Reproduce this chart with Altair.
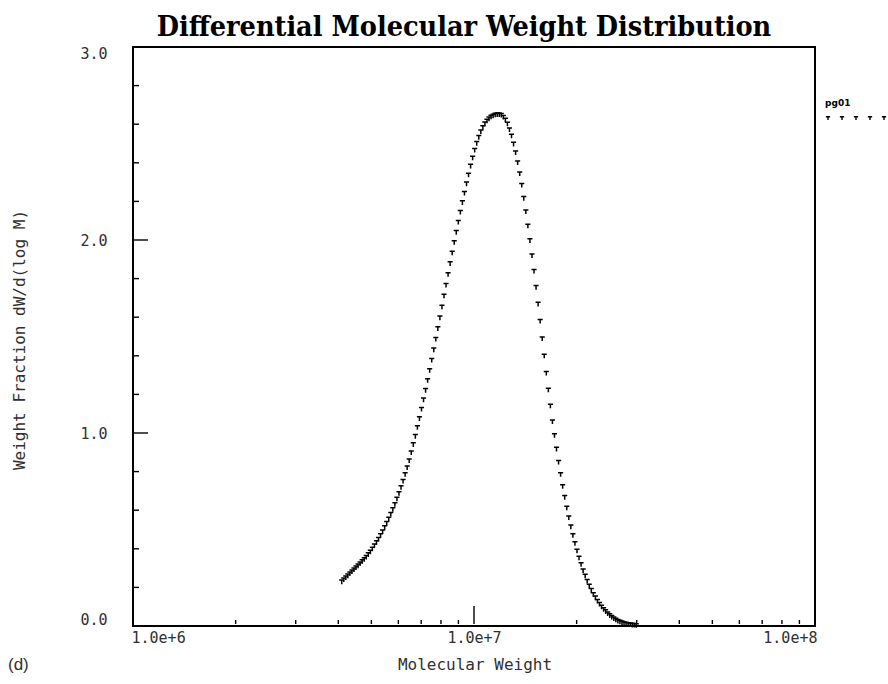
import altair as alt
import pandas as pd

# ---------------- data ----------------
log_mw = [
    6.612, 6.618, 6.624, 6.630, 6.636, 6.642, 6.648, 6.654, 6.660, 6.666,
    6.672, 6.678, 6.684, 6.690, 6.696, 6.702, 6.708, 6.714, 6.720, 6.726,
    6.732, 6.738, 6.744, 6.750, 6.756, 6.762, 6.768, 6.774, 6.780, 6.786,
    6.792, 6.798, 6.804, 6.810, 6.816, 6.822, 6.828, 6.834, 6.840, 6.846,
    6.852, 6.858, 6.864, 6.870, 6.876, 6.882, 6.888, 6.894, 6.900, 6.906,
    6.912, 6.918, 6.924, 6.930, 6.936, 6.942, 6.948, 6.954, 6.960, 6.966,
    6.972, 6.978, 6.984, 6.990, 6.996, 7.002, 7.008, 7.014, 7.020, 7.026,
    7.032, 7.038, 7.044, 7.050, 7.056, 7.062, 7.068, 7.074, 7.080, 7.086,
    7.092, 7.098, 7.104, 7.110, 7.116, 7.122, 7.128, 7.134, 7.140, 7.146,
    7.152, 7.158, 7.164, 7.170, 7.176, 7.182, 7.188, 7.194, 7.200, 7.206,
    7.212, 7.218, 7.224, 7.230, 7.236, 7.242, 7.248, 7.254, 7.260, 7.266,
    7.272, 7.278, 7.284, 7.290, 7.296, 7.302, 7.308, 7.314, 7.320, 7.326,
    7.332, 7.338, 7.344, 7.350, 7.356, 7.362, 7.368, 7.374, 7.380, 7.386,
    7.392, 7.398, 7.404, 7.410, 7.416, 7.422, 7.428, 7.434, 7.440, 7.446,
    7.452, 7.458, 7.464, 7.470, 7.476,
]
weight_fraction = [
    0.230, 0.241, 0.251, 0.261, 0.272, 0.282, 0.293, 0.303, 0.313, 0.324,
    0.335, 0.346, 0.358, 0.371, 0.385, 0.400, 0.417, 0.434, 0.451, 0.470,
    0.490, 0.511, 0.533, 0.555, 0.580, 0.605, 0.631, 0.659, 0.688, 0.719,
    0.751, 0.786, 0.821, 0.858, 0.899, 0.941, 0.984, 1.030, 1.076, 1.124,
    1.173, 1.222, 1.273, 1.325, 1.378, 1.432, 1.487, 1.542, 1.598, 1.654,
    1.711, 1.767, 1.823, 1.879, 1.934, 1.988, 2.041, 2.093, 2.145, 2.195,
    2.244, 2.292, 2.338, 2.384, 2.426, 2.466, 2.502, 2.533, 2.562, 2.584,
    2.603, 2.618, 2.629, 2.639, 2.644, 2.649, 2.650, 2.650, 2.648, 2.637,
    2.623, 2.602, 2.573, 2.540, 2.498, 2.453, 2.402, 2.345, 2.285, 2.217,
    2.148, 2.074, 1.998, 1.920, 1.839, 1.756, 1.669, 1.580, 1.490, 1.400,
    1.311, 1.224, 1.141, 1.060, 0.988, 0.918, 0.850, 0.786, 0.724, 0.668,
    0.613, 0.562, 0.515, 0.470, 0.429, 0.390, 0.354, 0.320, 0.288, 0.260,
    0.233, 0.208, 0.186, 0.165, 0.147, 0.130, 0.114, 0.100, 0.087, 0.076,
    0.065, 0.055, 0.047, 0.039, 0.032, 0.026, 0.022, 0.018, 0.014, 0.012,
    0.009, 0.008, 0.006, 0.005, 0.004,
]
series_name = ["pg01"]

x_label_values = [1e6, 1e7, 1e8]
x_major_ticks = [1e7]
x_minor_ticks = [2e6, 3e6, 4e6, 5e6, 6e6, 7e6, 8e6, 9e6,
                 2e7, 3e7, 4e7, 5e7, 6e7, 7e7, 8e7, 9e7]
y_label_values = [0.0, 1.0, 2.0, 3.0]
y_major_ticks = [1.0, 2.0]
y_minor_ticks = [0.2, 0.4, 0.6, 0.8, 1.2, 1.4, 1.6, 1.8,
                 2.2, 2.4, 2.6, 2.8]

title_text = ["Differential Molecular Weight Distribution"]
x_title = ["Molecular Weight"]
y_title = ["Weight Fraction dW/d(log M)"]
panel_tag = ["(d)"]

# ---------------- layout ----------------
W, H = 682, 579
MONO = "DejaVu Sans Mono"
TEXT_COLOR = "#303030"
T_SHAPE = "M -1 -0.6 L 1 -0.6 M 0 -0.6 L 0 1"

df = pd.DataFrame({"mw": [10 ** v for v in log_mw], "w": weight_fraction})

xscale = alt.Scale(type="log", domain=[1e6, 1e8], nice=False)
yscale = alt.Scale(domain=[0, 3], nice=False, zero=False)

x_axis = alt.Axis(
    values=x_label_values, format=".1e", title=None, ticks=False, domain=False,
    grid=False, labelFlush=True, labelFlushOffset=2, labelFont=MONO,
    labelFontSize=15, labelColor=TEXT_COLOR, labelPadding=4)
y_axis = alt.Axis(
    values=y_label_values, format=".1f", title=None, ticks=False, domain=False,
    grid=False, labelFlush=True, labelFlushOffset=1, labelFont=MONO,
    labelFontSize=15, labelColor=TEXT_COLOR, labelPadding=26)

points = alt.Chart(df).mark_point(
    shape=T_SHAPE, size=26, filled=False, strokeWidth=1.5, color="black", opacity=1
).encode(
    x=alt.X("mw:Q", scale=xscale, axis=x_axis),
    y=alt.Y("w:Q", scale=yscale, axis=y_axis),
)

def xticks(vals, length):
    return alt.Chart(pd.DataFrame({"mw": vals})).mark_rule(
        color="black", strokeWidth=1.4
    ).encode(
        x=alt.X("mw:Q", scale=xscale, axis=x_axis),
        y=alt.value(H - 2),
        y2=alt.value(H - 2 - length),
    )

def yticks(vals, length):
    return alt.Chart(pd.DataFrame({"w": vals})).mark_rule(
        color="black", strokeWidth=1.4
    ).encode(
        y=alt.Y("w:Q", scale=yscale, axis=y_axis),
        x=alt.value(1),
        x2=alt.value(1 + length),
    )

one = pd.DataFrame({"k": [0]})

def label(text, x, y, **kw):
    return alt.Chart(pd.DataFrame({"txt": text})).mark_text(**kw).encode(
        text="txt:N", x=alt.value(x), y=alt.value(y)
    )

title = label(title_text, 331, -11, font="DejaVu Serif Condensed", fontSize=28.5,
              fontWeight="bold", align="center", baseline="alphabetic", color="black")
xt = label(x_title, 342, 618, font=MONO, fontSize=16, align="center",
           baseline="middle", color=TEXT_COLOR)
yt = label(y_title, -113, 293, font=MONO, fontSize=16, align="center",
           baseline="middle", angle=270, color=TEXT_COLOR)
tag = label(panel_tag, -125, 618, font="Liberation Sans", fontSize=17,
            align="left", baseline="middle", color=TEXT_COLOR)
leg_text = label(series_name, 692, 56, font="DejaVu Sans", fontSize=9,
                 fontWeight="bold", align="left", baseline="middle", color="black")

leg_marks = []
for i in range(5):
    leg_marks.append(
        alt.Chart(one).mark_point(shape=T_SHAPE, size=18, filled=False,
                                  strokeWidth=1.4, color="black", opacity=1)
        .encode(x=alt.value(695 + 14 * i), y=alt.value(71))
    )

chart = alt.layer(
    points,
    xticks(x_minor_ticks, 4),
    xticks(x_major_ticks, 18),
    yticks(y_minor_ticks, 5),
    yticks(y_major_ticks, 14),
    title, xt, yt, tag, leg_text, *leg_marks,
).properties(
    width=W, height=H,
    autosize=alt.AutoSizeParams(type="none"),
    padding={"left": 133, "top": 47, "right": 73, "bottom": 58},
    background="white",
).configure_view(stroke="black", strokeWidth=2)

chart.save("out.html", embed_options={"renderer": "svg", "actions": False})
